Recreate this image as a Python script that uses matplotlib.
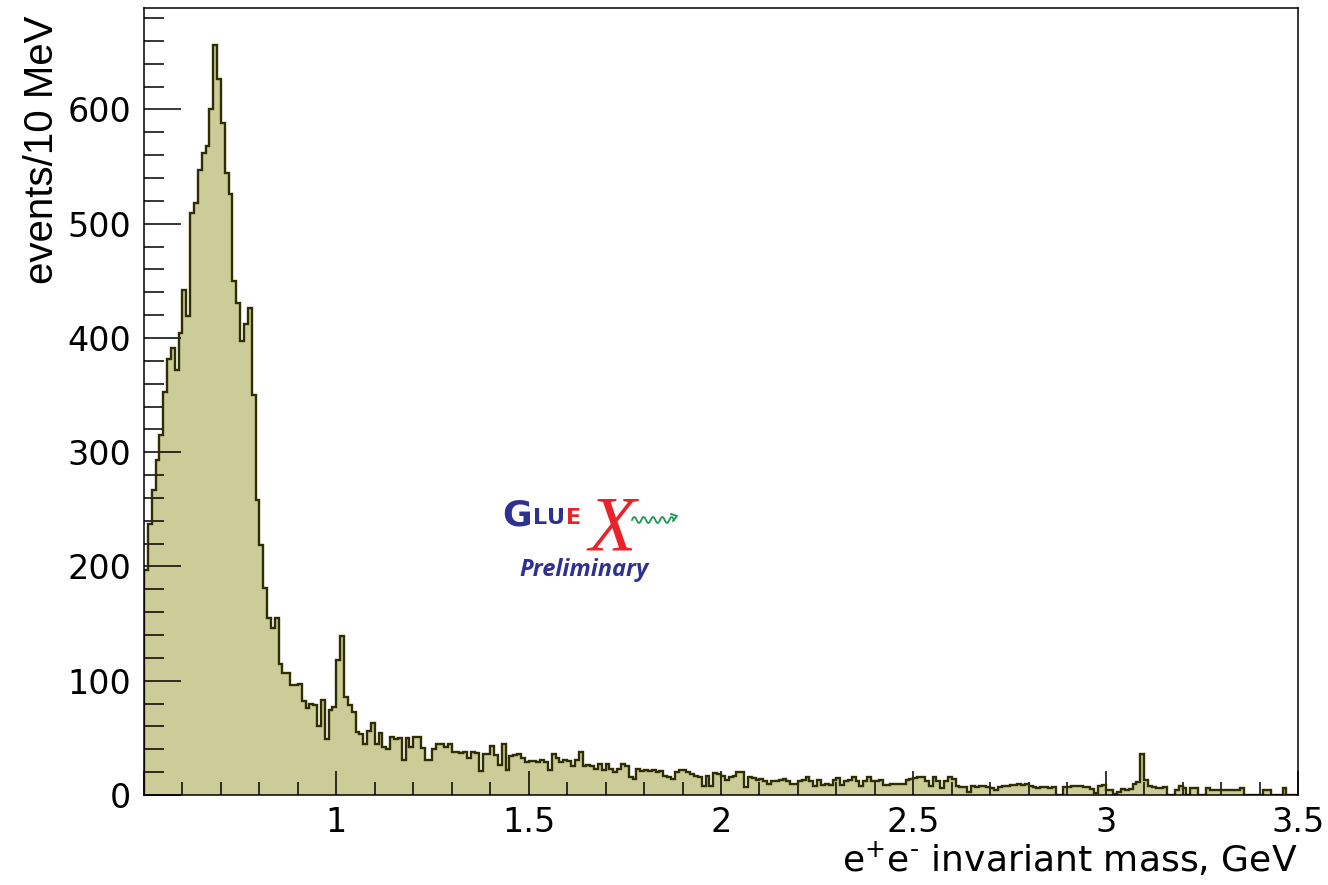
import numpy as np
import matplotlib
matplotlib.use("Agg")
import matplotlib.pyplot as plt
from matplotlib.ticker import MultipleLocator, FixedLocator, FixedFormatter
from matplotlib.lines import Line2D

plt.rcParams['font.family'] = ['DejaVu Sans']
plt.rcParams['mathtext.fontset'] = 'dejavusans'

# e+e- invariant mass histogram, 10 MeV bins from 0.5 to 3.5 GeV
mass_lo, mass_hi, bin_width = 0.5, 3.5, 0.01

counts_0p50_0p80 = [197, 237, 267, 293, 315, 353, 382, 391, 372, 404,
                    442, 419, 509, 518, 547, 562, 568, 600, 656, 627,
                    588, 544, 526, 450, 431, 397, 412, 426, 350, 258]
counts_0p80_1p30 = [219, 181, 155, 146, 155, 115, 107, 107, 96, 96,
                    97, 82, 76, 80, 79, 60, 83, 49, 74, 77,
                    118, 139, 86, 79, 73, 55, 53, 45, 56, 63,
                    45, 54, 42, 40, 51, 49, 50, 31, 50, 42,
                    51, 51, 41, 31, 31, 40, 45, 45, 42, 45]
counts_1p30_2p00 = [38, 38, 37, 38, 32, 38, 37, 21, 36, 36,
                    43, 35, 26, 45, 22, 34, 35, 36, 32, 29,
                    30, 30, 29, 31, 29, 22, 36, 32, 29, 31,
                    30, 25, 31, 38, 25, 26, 25, 23, 27, 22,
                    27, 23, 20, 23, 27, 25, 16, 14, 23, 21,
                    22, 21, 22, 20, 21, 17, 16, 14, 20, 22,
                    22, 20, 18, 17, 16, 8, 17, 8, 19, 18]
counts_2p00_2p80 = [17, 13, 16, 17, 20, 20, 7, 16, 15, 13,
                    14, 12, 10, 12, 12, 13, 14, 12, 10, 10,
                    12, 13, 16, 12, 8, 13, 9, 10, 9, 13,
                    15, 9, 12, 13, 16, 12, 8, 12, 16, 12,
                    12, 13, 9, 9, 10, 10, 10, 10, 13, 14,
                    15, 16, 16, 12, 8, 16, 12, 6, 12, 16,
                    14, 8, 7, 7, 3, 8, 7, 8, 8, 7,
                    6, 4, 7, 8, 8, 9, 9, 10, 9, 10]
counts_2p80_3p50 = [8, 7, 6, 7, 7, 6, 7, 0, 0, 7,
                    7, 8, 8, 8, 7, 7, 5, 2, 8, 9,
                    4, 4, 1, 3, 5, 4, 5, 10, 11, 36,
                    13, 8, 7, 6, 6, 7, 0, 0, 4, 8,
                    6, 0, 6, 6, 0, 0, 6, 4, 4, 4,
                    4, 4, 4, 4, 4, 6, 0, 0, 0, 0,
                    0, 4, 4, 0, 0, 0, 6, 0, 0, 0]

counts = np.array(counts_0p50_0p80 + counts_0p80_1p30 + counts_1p30_2p00
                  + counts_2p00_2p80 + counts_2p80_3p50, dtype=float)
n_bins = int(round((mass_hi - mass_lo) / bin_width))
edges = np.linspace(mass_lo, mass_hi, n_bins + 1)

x_major = [0.5, 1.0, 1.5, 2.0, 2.5, 3.0, 3.5]
x_labels = ['', '1', '1.5', '2', '2.5', '3', '3.5']
y_major = [0, 100, 200, 300, 400, 500, 600]
y_labels = ['0', '100', '200', '300', '400', '500', '600']

W, H = 1328, 885
fig = plt.figure(figsize=(W / 100, H / 100), dpi=100)
fig.patch.set_facecolor('white')
ax = fig.add_axes([144 / W, 90 / H, 1154 / W, 787 / H])

fill_color = '#cccc99'
line_color = '#2e2e00'
ax.stairs(counts, edges, baseline=0, fill=True, facecolor=fill_color,
          edgecolor='none', zorder=1)
ax.stairs(counts, edges, baseline=0, fill=False, color=line_color,
          linewidth=1.7, zorder=2)

ax.set_xlim(mass_lo, mass_hi)
ax.set_ylim(0, 1.05 * counts.max())

ax.xaxis.set_major_locator(FixedLocator(x_major))
ax.xaxis.set_major_formatter(FixedFormatter(x_labels))
ax.xaxis.set_minor_locator(MultipleLocator(0.1))
ax.yaxis.set_major_locator(FixedLocator(y_major))
ax.yaxis.set_major_formatter(FixedFormatter(y_labels))
ax.yaxis.set_minor_locator(MultipleLocator(20))

ax.tick_params(axis='both', which='both', direction='in', colors='black',
               top=False, right=False, width=1.1, zorder=5)
ax.tick_params(axis='y', which='major', length=26.5, labelsize=24, pad=9)
ax.tick_params(axis='y', which='minor', length=14.5)
ax.tick_params(axis='x', which='major', length=17.3, labelsize=24, pad=8)
ax.tick_params(axis='x', which='minor', length=9.6)
for sp in ax.spines.values():
    sp.set_linewidth(1.1)
    sp.set_color('black')
    sp.set_zorder(6)

ax.set_ylabel('events/10 MeV', fontsize=29, loc='top',
              family='Liberation Sans')
ax.yaxis.set_label_coords(-0.072, 0.991)

fig.text(1298 / W, 1 - 871 / H,
         'e$^{+}$e$^{\u2010}$ invariant mass, GeV',
         ha='right', va='baseline', fontsize=26)

# GlueX logo with "Preliminary" tag
blue = '#2e3192'
red = '#e8232a'
green = '#1a9850'


def px(x, y):
    return x / W, 1 - y / H


fig.text(*px(502, 525), 'G', ha='left', va='baseline', fontsize=26,
         fontweight='bold', color=blue, family='DejaVu Sans')
fig.text(*px(533, 524), 'L', ha='left', va='baseline', fontsize=16,
         fontweight='bold', color=blue, family='DejaVu Sans')
fig.text(*px(547, 524), 'U', ha='left', va='baseline', fontsize=16,
         fontweight='bold', color=blue, family='DejaVu Sans')
fig.text(*px(566, 524), 'E', ha='left', va='baseline', fontsize=16,
         fontweight='bold', color=red, family='DejaVu Sans')
fig.text(*px(612, 550), 'X', ha='center', va='baseline', fontsize=56,
         style='italic', color=red, family='Liberation Serif')
wave_x = np.linspace(632, 674, 120)
wave_y = 520 - 3 * np.sin((wave_x - 632) / 42 * 2 * np.pi * 4.5)
fig.add_artist(Line2D(wave_x / W, 1 - wave_y / H, color=green, lw=1.3))
fig.add_artist(Line2D([671 / W, 677 / W, 673 / W],
                      [1 - 514 / H, 1 - 516 / H, 1 - 521 / H],
                      color=green, lw=1.3))
fig.text(*px(519, 576), 'Preliminary', ha='left', va='baseline', fontsize=17,
         fontweight='bold', style='italic', color=blue, family='Open Sans')

fig.savefig('out.png', dpi=100, facecolor='white')
